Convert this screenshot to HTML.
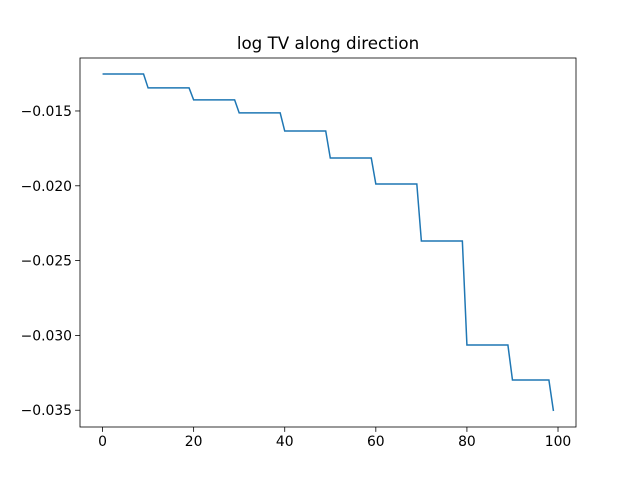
<!DOCTYPE html>
<html><head><meta charset="utf-8"><style>
body{margin:0;background:#fff}
svg text{font-family:"DejaVu Sans","Liberation Sans",sans-serif;fill:#000}
</style></head><body>
<svg id="chart" width="640" height="480" xmlns="http://www.w3.org/2000/svg">
<rect width="640" height="480" fill="#fff"/>
<text x="328" y="49" font-size="16.7" text-anchor="middle">log TV along direction</text>
<g id="ticks"></g>
<path id="line" fill="none" stroke="#1f77b4" stroke-width="1.5"/>
<rect x="80" y="58" width="496" height="369" fill="none" stroke="#000" stroke-width="0.8"/>
</svg>
<script>
const xTicks=[0,20,40,60,80,100];
const yTicks=[-0.015,-0.020,-0.025,-0.030,-0.035];
const yTickLabels=["−0.015","−0.020","−0.025","−0.030","−0.035"];
const values=[
-0.01253,-0.01253,-0.01253,-0.01253,-0.01253,-0.01253,-0.01253,-0.01253,-0.01253,-0.01253,
-0.01346,-0.01346,-0.01346,-0.01346,-0.01346,-0.01346,-0.01346,-0.01346,-0.01346,-0.01346,
-0.01426,-0.01426,-0.01426,-0.01426,-0.01426,-0.01426,-0.01426,-0.01426,-0.01426,-0.01426,
-0.01513,-0.01513,-0.01513,-0.01513,-0.01513,-0.01513,-0.01513,-0.01513,-0.01513,-0.01513,
-0.01634,-0.01634,-0.01634,-0.01634,-0.01634,-0.01634,-0.01634,-0.01634,-0.01634,-0.01634,
-0.01814,-0.01814,-0.01814,-0.01814,-0.01814,-0.01814,-0.01814,-0.01814,-0.01814,-0.01814,
-0.01988,-0.01988,-0.01988,-0.01988,-0.01988,-0.01988,-0.01988,-0.01988,-0.01988,-0.01988,
-0.02369,-0.02369,-0.02369,-0.02369,-0.02369,-0.02369,-0.02369,-0.02369,-0.02369,-0.02369,
-0.03064,-0.03064,-0.03064,-0.03064,-0.03064,-0.03064,-0.03064,-0.03064,-0.03064,-0.03064,
-0.03298,-0.03298,-0.03298,-0.03298,-0.03298,-0.03298,-0.03298,-0.03298,-0.03298,-0.03505];
const NS="http://www.w3.org/2000/svg";
const xMin=-4.95,xMax=103.95,yMin=-0.03612,yMax=-0.01146;
function sx(v){return 80+(v-xMin)/(xMax-xMin)*496;}
function sy(v){return 427-(v-yMin)/(yMax-yMin)*369;}
const g=document.getElementById('ticks');
function el(t,a){const e=document.createElementNS(NS,t);for(const k in a)e.setAttribute(k,a[k]);g.appendChild(e);return e;}
xTicks.forEach(t=>{
 const x=sx(t);
 const l=el('line',{x1:x,x2:x,y1:427,y2:431.9,stroke:'#000','stroke-width':0.8});
 
 
 const tx=el('text',{x:x,y:446,'font-size':13.9,'text-anchor':'middle'});
 tx.textContent=t;
 
 
});
yTicks.forEach((t,i)=>{
 const y=sy(t);
 const l=el('line',{x1:75.1,x2:80,y1:y,y2:y,stroke:'#000','stroke-width':0.8});
 
 
 const tx=el('text',{x:72,y:y+5,'font-size':13.9,'text-anchor':'end'});
 tx.textContent=yTickLabels[i];
 
 
});
document.getElementById('line').setAttribute('d',values.map((v,i)=>(i?'L':'M')+sx(i).toFixed(2)+' '+sy(v).toFixed(2)).join(' '));
</script>
</body></html>
